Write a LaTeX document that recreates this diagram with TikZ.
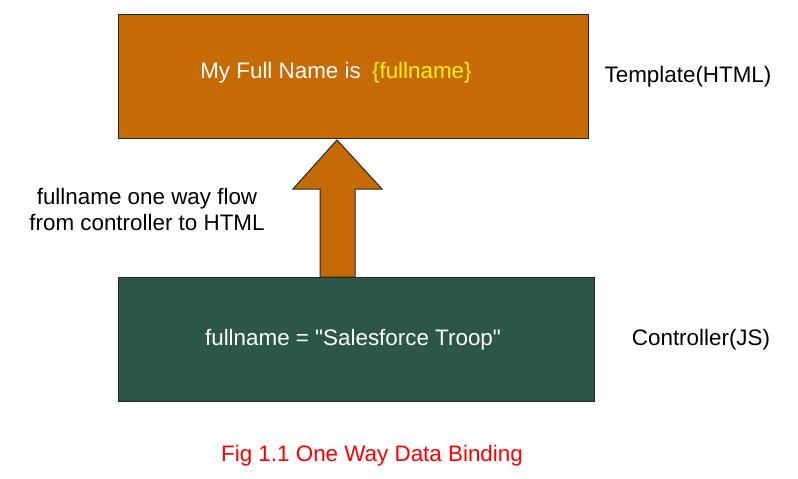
\documentclass[tikz,border=0pt]{standalone}
\usepackage{fontspec}
\setmainfont{Liberation Sans}[Ligatures=TeXOff]
\definecolor{orangebox}{RGB}{198,106,6}
\definecolor{greenbox}{RGB}{43,86,72}
\definecolor{yel}{RGB}{255,242,0}
\begin{document}
\begin{tikzpicture}[x=1pt,y=-1pt,
  box/.style={draw=black!85, line width=1pt, minimum width=#1, inner sep=0pt, anchor=north west},
  lbl/.style={font=\fontsize{22.4}{26}\selectfont, inner sep=0pt, align=center}]
\useasboundingbox (0,0) rectangle (798,479);
\node[box=470pt, minimum height=124pt, fill=orangebox] (tpl) at (118,14) {};
\node[box=476pt, minimum height=124pt, fill=greenbox] (ctl) at (118,277) {};
\node[lbl, text=white] (tpltext) at (336,73) {My Full Name is\hspace{0.5em}\textcolor{yel}{\{fullname\}}};
\node[lbl, text=white] (ctltext) at (353,340) {fullname = "Salesforce Troop"};
\node[lbl] (tlabel) at (688,77) {Template(HTML)};
\node[lbl] (clabel) at (701,340) {Controller(JS)};
\node[lbl] (flow) at (147,209) {fullname one way flow\\from controller to HTML};
\node[lbl, text=red] (cap) at (372,456) {Fig 1.1 One Way Data Binding};
\coordinate (tip) at (337,140);
\draw[fill=orangebox, draw=black!85, line width=1pt, line join=miter]
  (320,277) -- (320,189) -- (293,189) -- (tip) -- (382,189) -- (355,189) -- (355,277) -- cycle;
\end{tikzpicture}
\end{document}
